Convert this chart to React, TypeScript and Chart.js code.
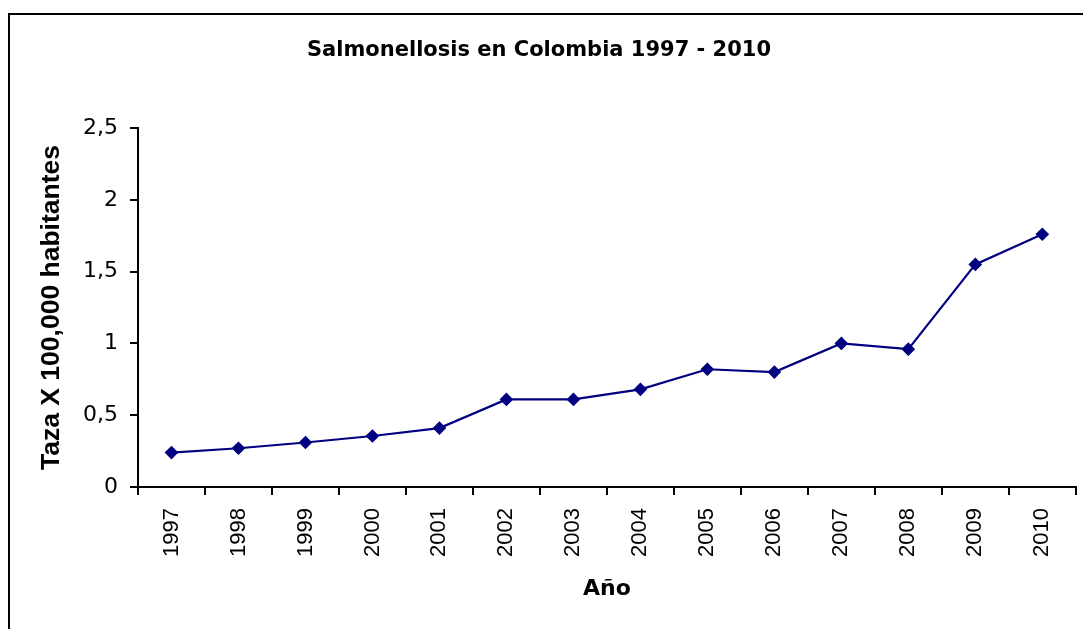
import React, { useEffect, useRef } from 'react';
import { Chart, registerables } from 'chart.js';

Chart.register(...registerables);

const years: string[] = ['1997', '1998', '1999', '2000', '2001', '2002', '2003', '2004', '2005', '2006', '2007', '2008', '2009', '2010'];
const rates: number[] = [0.24, 0.27, 0.31, 0.355, 0.41, 0.61, 0.61, 0.68, 0.82, 0.80, 1.0, 0.96, 1.55, 1.76];
const chartTitle = 'Salmonellosis en Colombia 1997 - 2010';
const yTitle = 'Taza X 100,000 habitantes';
const xTitle = 'Año';

const WIDE = '"DejaVu Sans", "Liberation Sans", Arial, sans-serif';
const NARROW = '"Liberation Sans", Arial, sans-serif';

const framePlugin = {
  id: 'frame',
  beforeDraw(chart: any) {
    const ctx = chart.ctx;
    ctx.save();
    ctx.fillStyle = '#ffffff';
    ctx.fillRect(0, 0, chart.width, chart.height);
    ctx.strokeStyle = '#000000';
    ctx.lineWidth = 2;
    ctx.strokeRect(9, 14, 3000, 3000);
    ctx.restore();
  },
};

export default function App() {
  const ref = useRef<HTMLCanvasElement | null>(null);

  useEffect(() => {
    const canvas = ref.current;
    if (!canvas) return;
    const chart = new Chart(canvas, {
      type: 'line',
      data: {
        labels: years,
        datasets: [
          {
            data: rates,
            borderColor: '#000080',
            backgroundColor: '#000080',
            borderWidth: 2.2,
            pointStyle: 'rectRot',
            pointRadius: 6,
            pointBorderWidth: 1.2,
            pointBackgroundColor: '#000080',
            pointBorderColor: '#000080',
            tension: 0,
            fill: false,
          },
        ],
      },
      options: {
        responsive: false,
        animation: false,
        layout: { padding: { left: 0, right: 5, top: 0, bottom: 0 } },
        plugins: {
          legend: { display: false },
          tooltip: { enabled: false },
          title: {
            display: true,
            text: chartTitle,
            color: '#000',
            font: { family: WIDE, size: 21, weight: 'bold', lineHeight: 1.2 },
            padding: { top: 38, bottom: 64.8 },
          },
        },
        scales: {
          x: {
            type: 'category',
            offset: true,
            grid: { display: true, drawOnChartArea: false, drawTicks: true, tickLength: 8, offset: true, color: '#000', lineWidth: 2 },
            border: { display: true, color: '#000', width: 2 },
            ticks: { color: '#000', font: { family: NARROW, size: 22 }, minRotation: 90, maxRotation: 90, padding: 13, autoSkip: false },
            title: { display: true, text: xTitle, color: '#000', font: { family: WIDE, size: 22, weight: 'bold', lineHeight: 1.2 }, padding: { top: 0, bottom: 27 } },
            afterFit: (scale: any) => { scale.height = 142; },
          },
          y: {
            min: 0,
            max: 2.5,
            grid: { display: true, drawOnChartArea: false, drawTicks: true, tickLength: 8, color: '#000', lineWidth: 2 },
            border: { display: true, color: '#000', width: 2 },
            ticks: {
              stepSize: 0.5,
              color: '#000',
              padding: 12,
              font: { family: WIDE, size: 22 },
              callback: (v: any) => String(v).replace('.', ','),
            },
            title: { display: true, text: yTitle, color: '#000', font: { family: NARROW, size: 26.5, weight: 'bold', lineHeight: 1.2 }, padding: { top: 36, bottom: 0 } },
            afterFit: (scale: any) => { scale.width = 138; },
          },
        },
      },
      plugins: [framePlugin],
    });
    return () => chart.destroy();
  }, []);

  return (
    <div style={{ position: 'fixed', left: 0, top: 0, width: 1083, height: 629, background: '#fff' }}>
      <canvas ref={ref} width={1083} height={629} style={{ display: 'block' }} />
    </div>
  );
}
